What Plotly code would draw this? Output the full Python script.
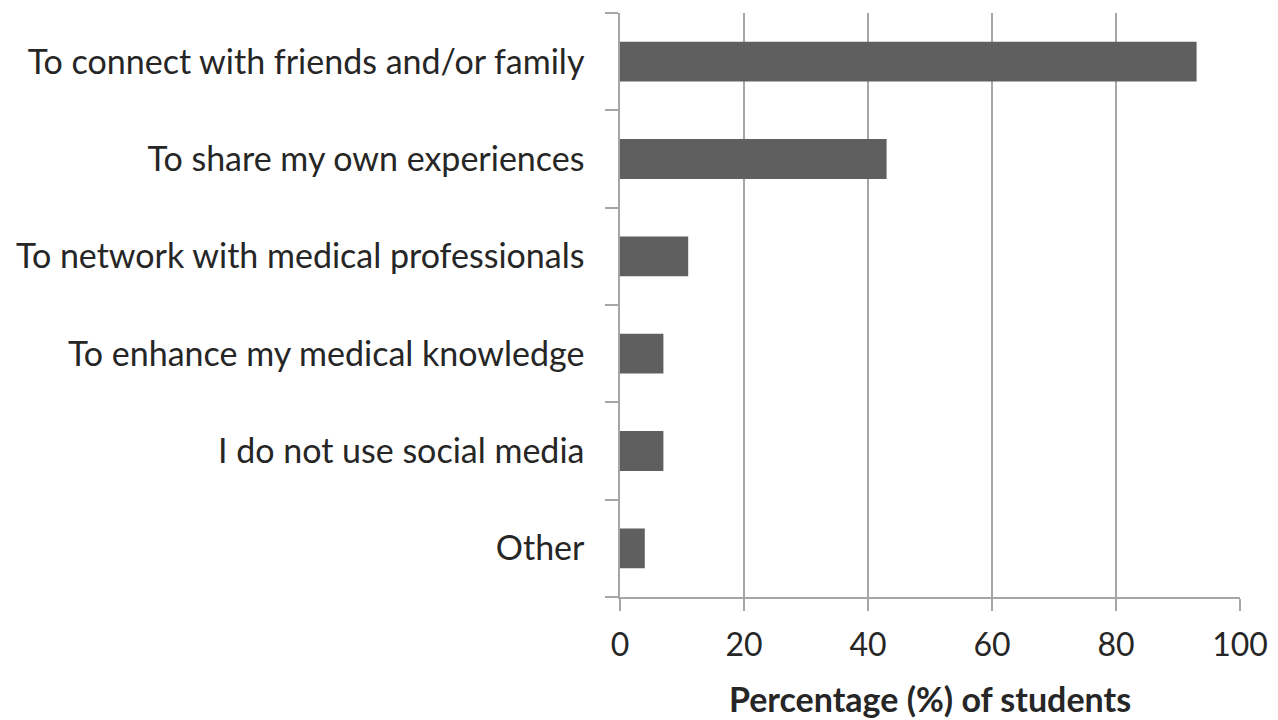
import plotly.graph_objects as go

# Survey responses: reasons for using social media
categories = [
    "To connect with friends and/or family",
    "To share my own experiences",
    "To network with medical professionals",
    "To enhance my medical knowledge",
    "I do not use social media",
    "Other",
]
percentages = [93, 43, 11, 7, 7, 4]
x_ticks = [0, 20, 40, 60, 80, 100]

axis_gray = "#a6a6a6"
text_color = "#262626"
font_family = "Lato"

fig = go.Figure(
    go.Bar(
        x=percentages,
        y=categories,
        orientation="h",
        marker=dict(color="#5f5f5f", line=dict(width=0)),
        width=0.41,
    )
)

fig.update_layout(
    width=1278,
    height=720,
    margin=dict(l=620, r=38, t=13, b=123),
    paper_bgcolor="white",
    plot_bgcolor="white",
    showlegend=False,
    font=dict(family=font_family, color=text_color),
)

fig.update_xaxes(
    range=[0, 100],
    tickvals=x_ticks,
    ticktext=[str(v) for v in x_ticks],
    showgrid=True,
    gridcolor=axis_gray,
    gridwidth=1.5,
    showline=True,
    linecolor=axis_gray,
    linewidth=1.5,
    ticks="outside",
    ticklen=12,
    tickwidth=1.5,
    tickcolor=axis_gray,
    tickfont=dict(size=32, color=text_color, family=font_family),
    ticklabelstandoff=7,
    zeroline=False,
    automargin=False,
    title=dict(
        text="<b>Percentage (%) of students</b>",
        font=dict(size=34, color=text_color, family=font_family),
        standoff=26,
    ),
)

fig.update_yaxes(
    type="category",
    categoryorder="array",
    categoryarray=categories[::-1],
    tickson="boundaries",
    showgrid=False,
    showline=True,
    linecolor=axis_gray,
    linewidth=1.5,
    ticks="outside",
    ticklen=13,
    tickwidth=1.5,
    tickcolor=axis_gray,
    tickfont=dict(size=34, color=text_color, family=font_family),
    ticklabelstandoff=27,
    zeroline=False,
    automargin=False,
)

fig.write_html("out.html")
